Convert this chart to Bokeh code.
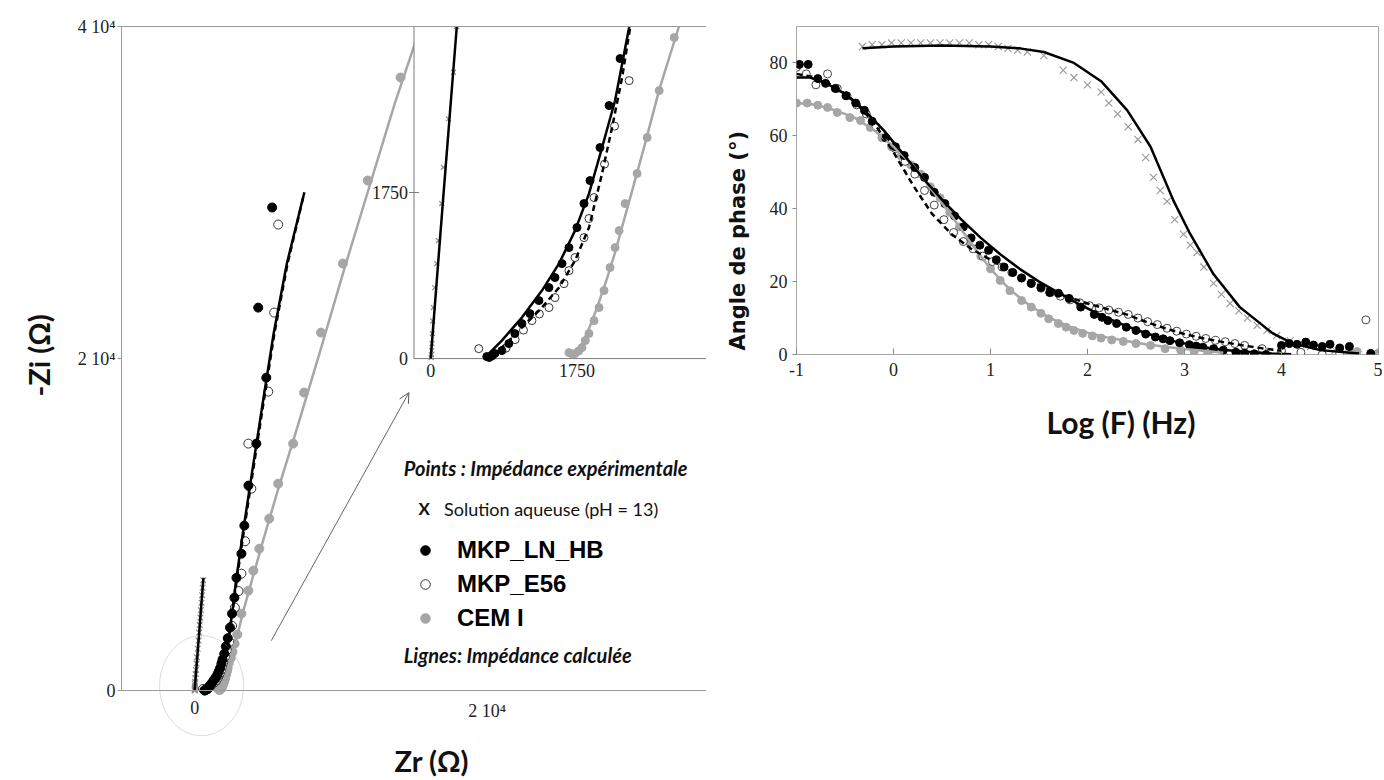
import numpy as np
from bokeh.plotting import figure
from bokeh.models import (Range1d, FixedTicker, Arrow, OpenHead, Legend, Label,
                          LegendItem, PolyAnnotation, LinearAxis, Title)
from bokeh.layouts import row, column
from bokeh.embed import file_html
from bokeh.resources import INLINE
from bokeh.core.properties import value

# ---------------- Nyquist data (Ohm) ----------------
SOL_ZR = [6, 9, 12, 16, 20, 24, 32, 48, 72, 92, 132, 152, 212, 272, 310, 350, 390, 430, 470, 510, 550, 590]
SOL_ZI = [10, 40, 84, 158, 264, 396, 538, 748, 1001, 1244, 1634, 2016, 2526, 3018, 3500, 3950, 4400, 4850, 5300, 5750, 6200, 6650]
SOLFIT_ZR = [0, 150, 312, 600]
SOLFIT_ZI = [0, 1700, 3500, 6800]

LN_ZR = [671, 700, 735, 767, 851, 935, 1007, 1091, 1187, 1295, 1415, 1487, 1571, 1654, 1750, 1834, 1906, 2026, 2134, 2266,
         2420, 2560, 2720, 2860, 3200, 3400, 3680, 4220, 4900, 4350, 5300]
LN_ZI = [21, 12, 30, 53, 84, 158, 264, 369, 474, 611, 748, 854, 1001, 1170, 1381, 1634, 1876, 2224, 2667, 3162,
         3800, 4640, 5600, 6800, 8250, 9940, 12350, 14880, 18850, 23070, 29100]
LNFIT_ZR = [695, 851, 1091, 1331, 1535, 1727, 1894, 2050, 2206, 2374, 2560, 2860, 3300, 3900, 4600, 5400, 6300, 7500]
LNFIT_ZI = [53, 190, 432, 717, 1001, 1349, 1739, 2224, 2720, 3489, 4640, 6800, 9500, 13000, 17000, 21500, 25700, 30000]

E56_ZR = [575, 900, 1010, 1110, 1211, 1300, 1415, 1487, 1595, 1654, 1727, 1834, 1894, 1954, 2080, 2200, 2374, 2560,
          2750, 3000, 3197, 3450, 3878, 3674, 5034, 5442, 5714]
E56_ZI = [105, 110, 200, 300, 400, 470, 538, 643, 790, 927, 1065, 1275, 1476, 1697, 2050, 2450, 2930, 3900,
          5000, 6000, 7048, 9000, 12168, 14880, 18012, 22771, 28072]
E56FIT_ZR = [731, 851, 1091, 1331, 1535, 1727, 1894, 2050, 2170, 2290, 2386, 2580, 2900, 3350, 3950, 4650, 5450, 6350, 7500]
E56FIT_ZI = [32, 116, 327, 538, 748, 1033, 1381, 1950, 2435, 2962, 3489, 4640, 6800, 9500, 13000, 17000, 21500, 25700, 30000]

CEM_ZR = [1654, 1690, 1727, 1770, 1810, 1850, 1894, 1954, 2014, 2074, 2146, 2206, 2254, 2326, 2470, 2590, 2734, 2914,
          3197, 3674, 4014, 4422, 5102, 5714, 6735, 7483, 8640, 10136, 11837, 14082]
CEM_ZI = [63, 50, 53, 80, 116, 190, 264, 400, 538, 717, 959, 1170, 1349, 1634, 1950, 2330, 2825, 3383,
          4638, 6024, 7229, 8554, 10361, 12470, 14880, 17952, 21566, 25723, 30723, 36927]
CEMFIT_ZR = [1750, 1810, 1900, 2000, 2100, 2200, 2300, 2420, 2560, 2740, 2974, 3300, 3900, 4700, 5700, 7000, 8600,
             10200, 12000, 13700, 15300]
CEMFIT_ZI = [53, 150, 330, 560, 820, 1100, 1420, 1800, 2250, 2850, 3510, 4700, 6600, 9100, 12100, 15800, 20500,
             25300, 30500, 35400, 39600]

MAIN_TICKS_X = [0, 20000]
MAIN_TICKS_Y = [0, 20000, 40000]
MAIN_LABELS = {0: "0", 20000: "2 10\u2074", 40000: "4 10\u2074"}
INSET_TICKS = [0, 1750]

# ---------------- Bode (phase) data ----------------
SOL_LOGF = [-0.32, -0.22, -0.12, -0.02, 0.08, 0.18, 0.28, 0.38, 0.48, 0.58, 0.68, 0.78, 0.88, 0.98, 1.08, 1.18, 1.28,
            1.38, 1.55, 1.75, 1.86, 2.0, 2.14, 2.22, 2.31, 2.42, 2.52, 2.6, 2.68, 2.75, 2.82, 2.9, 2.99, 3.06, 3.13,
            3.2, 3.3, 3.38, 3.47, 3.56, 3.65, 3.75, 3.85, 3.95, 4.09, 4.2, 4.3, 4.43, 4.55, 4.7]
SOL_PH = [84.5, 85, 85, 85.5, 85.5, 85.5, 85.5, 85.5, 85.5, 85.5, 85.5, 85.5, 85, 85, 84.5, 84, 83.5, 83, 82, 78,
          76, 74, 72, 69, 66, 62.5, 59, 54, 48.6, 45, 42, 37, 33, 30, 28, 24, 19.5, 16.5, 14, 12,
          10, 8, 6.6, 5.2, 3.8, 2.8, 2.2, 1.6, 1.2, 0.8]
SOLFIT_LOGF = [-0.32, 0.0, 0.5, 1.0, 1.3, 1.55, 1.86, 2.14, 2.41, 2.65, 2.89, 3.06, 3.3, 3.57, 3.91, 4.12, 4.4, 4.8]
SOLFIT_PH = [84, 84.5, 84.8, 84.5, 84, 83, 80, 75, 67, 57, 42, 33, 22, 13, 5.8, 3, 1.2, 0.3]

LN_LOGF = [-0.97, -0.88, -0.78, -0.7, -0.6, -0.49, -0.39, -0.3, -0.22, -0.08, 0.02, 0.11, 0.22, 0.32, 0.42, 0.53,
           0.63, 0.72, 0.8, 0.89, 0.98, 1.06, 1.14, 1.23, 1.32, 1.42, 1.52, 1.61, 1.7, 1.81, 1.93, 2.07, 2.15, 2.21,
           2.3, 2.4, 2.5, 2.6, 2.7, 2.78, 2.85, 2.95, 3.05, 3.12, 3.19, 3.3, 3.4, 3.53, 3.62, 3.72, 3.84, 4.0, 4.08,
           4.16, 4.25, 4.33, 4.42, 4.5, 4.6, 4.7, 4.92]
LN_PH = [79.6, 79.6, 75.7, 74.4, 73, 71, 69, 67, 64, 59.5, 57, 54.6, 51.3, 48.6, 44.5, 41.4, 38, 35, 32, 30,
         28.6, 26, 24, 22.5, 21, 19.5, 18.4, 17, 16.8, 15.4, 13, 11, 10.2, 9.3, 8.5, 7.5, 6.6, 5.6, 4.8, 4.3,
         3.8, 3.2, 2.7, 2.3, 2, 1.6, 1.2, 0.6, 0.4, 0.2, 0, 2.5, 3, 2.8, 3.4, 2.6, 2.2, 2.8, 1.8, 2.2, 0.3]
LNFIT_LOGF = [-1.0, -0.86, -0.7, -0.5, -0.3, -0.1, 0.1, 0.3, 0.5, 0.7, 0.9, 1.1, 1.3, 1.5, 1.7, 1.9, 2.1, 2.3, 2.5,
              2.7, 2.9, 3.1, 3.3, 3.5, 3.7, 3.9, 4.1]
LNFIT_PH = [76, 76, 74.5, 71.5, 67, 61.5, 55, 48.5, 42.5, 37, 32, 27.5, 23.5, 20, 17, 14, 11.3, 8.9, 6.8,
            5, 3.6, 2.5, 1.6, 1, 0.6, 0.3, 0.1]

E56_LOGF = [-1.0, -0.9, -0.8, -0.68, -0.58, -0.48, -0.38, -0.28, -0.18, -0.08, 0.02, 0.12, 0.22, 0.32, 0.42, 0.52,
            0.62, 0.72, 0.82, 0.92, 1.02, 1.12, 1.22, 1.32, 1.42, 1.52, 1.62, 1.72, 1.82, 1.92, 2.02, 2.12, 2.22,
            2.32, 2.42, 2.52, 2.62, 2.72, 2.82, 2.92, 3.02, 3.12, 3.22, 3.32, 3.42, 3.52, 3.62, 3.8, 4.0, 4.2, 4.42,
            4.6, 4.87]
E56_PH = [78.8, 77, 74, 77, 73, 71, 68.5, 66, 62.5, 59.5, 56.5, 53, 49.5, 45, 41, 37, 33.5, 31, 29, 27,
          25.5, 24, 22.5, 21, 19.5, 18.2, 17, 16, 15, 14.2, 13.4, 12.8, 12.2, 11.6, 11, 10, 9, 8.2, 7.2, 6.4,
          5.6, 5, 4.4, 3.9, 3.5, 3, 2.5, 1.6, 1, 0.6, 0, 0.3, 9.5]
E56FIT_LOGF = [-1.0, -0.8, -0.6, -0.4, -0.2, 0.0, 0.2, 0.4, 0.6, 0.8, 1.0, 1.2, 1.4, 1.6, 1.8, 2.0, 2.2, 2.4, 2.6,
               2.8, 3.0, 3.2, 3.4, 3.6, 3.8, 4.0]
E56FIT_PH = [77, 76, 73.5, 69.5, 63.5, 55.5, 46.5, 38.5, 33, 29, 26, 23, 20.2, 17.8, 15.8, 14, 12.5, 11, 9,
             7.2, 5.6, 4.4, 3.4, 2.5, 1.7, 1.0]

CEM_LOGF = [-1.0, -0.89, -0.78, -0.68, -0.58, -0.45, -0.34, -0.24, -0.12, -0.02, 0.08, 0.18, 0.28, 0.38, 0.48, 0.58,
            0.68, 0.78, 0.9, 1.0, 1.1, 1.2, 1.32, 1.42, 1.52, 1.6, 1.7, 1.78, 1.86, 1.95, 2.05, 2.14, 2.25, 2.37,
            2.5, 2.65, 2.8, 2.96, 3.1, 3.24, 3.4, 4.7, 4.78, 5.0]
CEM_PH = [69, 69, 68.4, 67.8, 66.4, 65, 64.2, 62.3, 59.5, 57, 54.5, 52, 49.5, 46, 43, 39, 35, 31, 27, 23.5,
          20.3, 17.5, 14.8, 13, 11.3, 9.8, 8.5, 7.5, 6.6, 5.8, 5.1, 4.5, 4, 3.6, 3, 2.5, 1.6, 1.2, 0.8, 0.4,
          0, 1, 0.8, 0.4]
CEMFIT_LOGF = [-1.0, -0.8, -0.6, -0.4, -0.2, 0.0, 0.2, 0.4, 0.6, 0.8, 1.0, 1.2, 1.4, 1.6, 1.8, 2.0, 2.2, 2.4, 2.6,
               2.8, 3.0, 3.2, 3.4]
CEMFIT_PH = [69, 68.5, 67, 65, 61.5, 57, 52, 45, 38, 30.5, 23.5, 17.8, 13.5, 10.2, 7.8, 6, 4.7, 3.7, 2.8,
             2.1, 1.5, 1, 0.5]

BODE_TICKS_X = [-1, 0, 1, 2, 3, 4, 5]
BODE_TICKS_Y = [0, 20, 40, 60, 80]

# ---------------- styles ----------------
SERIF = "Liberation Serif"
BLACK = "#000000"
GRAY = "#a6a6a6"
XGRAY = "#8a8a8a"
FRAME = "#9a9a9a"


def clip_line(xs, ys, box):
    """Clip a polyline to box (x0, x1, y0, y1); returns list of pieces."""
    x0, x1, y0, y1 = box
    pieces, cx, cy = [], [], []
    for i in range(len(xs) - 1):
        ax, ay, bx, by = xs[i], ys[i], xs[i + 1], ys[i + 1]
        dx, dy = bx - ax, by - ay
        t0, t1, ok = 0.0, 1.0, True
        for pp, qq in ((-dx, ax - x0), (dx, x1 - ax), (-dy, ay - y0), (dy, y1 - ay)):
            if pp == 0:
                if qq < 0:
                    ok = False
                    break
            else:
                t = qq / pp
                if pp < 0:
                    if t > t1:
                        ok = False
                        break
                    t0 = max(t0, t)
                else:
                    if t < t0:
                        ok = False
                        break
                    t1 = min(t1, t)
        if not ok:
            if cx:
                pieces.append((cx, cy))
                cx, cy = [], []
            continue
        if not cx:
            cx, cy = [ax + t0 * dx], [ay + t0 * dy]
        cx.append(ax + t1 * dx)
        cy.append(ay + t1 * dy)
        if t1 < 1.0:
            pieces.append((cx, cy))
            cx, cy = [], []
    if cx:
        pieces.append((cx, cy))
    return pieces


def inside(xs, ys, box):
    x0, x1, y0, y1 = box
    xs, ys = np.asarray(xs, float), np.asarray(ys, float)
    m = (xs >= x0) & (xs <= x1) & (ys >= y0) & (ys <= y1)
    return xs[m], ys[m]


def blank_axis(ax):
    ax.ticker = FixedTicker(ticks=[])
    ax.axis_line_color = FRAME
    ax.major_tick_line_color = None
    ax.minor_tick_line_color = None
    ax.major_label_text_font_size = "0px"


# =============== Left: Nyquist ===============
p1 = figure(width=706, height=780, x_range=Range1d(-5000, 35000), y_range=Range1d(-3000, 40000),
            output_backend="svg", toolbar_location=None,
            min_border_left=120, min_border_right=0, min_border_top=26, min_border_bottom=40)
p1.grid.visible = False
p1.outline_line_color = None

# left axis (real ticks) bounded to 0..4e4
yax = p1.yaxis[0]
yax.ticker = FixedTicker(ticks=MAIN_TICKS_Y)
yax.major_label_overrides = MAIN_LABELS
yax.bounds = (0, 40000)
yax.axis_line_color = FRAME
yax.minor_tick_line_color = None
yax.major_tick_line_color = FRAME
yax.major_tick_in = 0
yax.major_tick_out = 4
yax.major_label_standoff = 2
yax.major_label_text_font = SERIF
yax.major_label_text_font_size = "18px"
yax.major_label_text_color = "#222222"

# bottom axis line drawn at Zi = 0 (the frame continues below it for the origin circle)
xax = p1.xaxis[0]
blank_axis(xax)
xax.fixed_location = 0
top_ax = LinearAxis()
blank_axis(top_ax)
p1.add_layout(top_ax, "above")
right_ax = LinearAxis(bounds=(0, 40000))
blank_axis(right_ax)
p1.add_layout(right_ax, "right")

# x tick labels (Zr) just under the Zi = 0 line
p1.text(x=MAIN_TICKS_X, y=[0] * len(MAIN_TICKS_X), text=[MAIN_LABELS[t] for t in MAIN_TICKS_X],
        text_font=value(SERIF), text_font_size="18px", text_color="#222222",
        text_align="center", text_baseline="top", y_offset=10)

# main glyphs
r_sol = p1.scatter(SOL_ZR, SOL_ZI, marker="x", size=8, line_color=XGRAY, line_width=1.2)
r_cem = p1.scatter(CEM_ZR, CEM_ZI, marker="circle", size=9, fill_color=GRAY, line_color=GRAY)
r_e56 = p1.scatter(E56_ZR, E56_ZI, marker="circle", size=9, fill_color="white", line_color="#333333", line_width=1)
r_ln = p1.scatter(LN_ZR, LN_ZI, marker="circle", size=9, fill_color=BLACK, line_color=BLACK)
p1.line(CEMFIT_ZR, CEMFIT_ZI, line_color=GRAY, line_width=2.5)
p1.line(E56FIT_ZR, E56FIT_ZI, line_color=BLACK, line_width=2.5, line_dash="6 4")
p1.line(LNFIT_ZR, LNFIT_ZI, line_color=BLACK, line_width=2.5)
p1.line(SOLFIT_ZR, SOLFIT_ZI, line_color=BLACK, line_width=2.5)

# inset (zoom on low impedances), drawn as a sub-coordinate system of the main plot
in_x = Range1d(-200, 3300)
in_y = Range1d(0, 3500)
box = (in_x.start, in_x.end, in_y.start, in_y.end)
sub = p1.subplot(x_source=in_x, y_source=in_y,
                 x_target=Range1d(15000, 35000), y_target=Range1d(20000, 40000))
sub.quad(left=[in_x.start], right=[in_x.end], bottom=[in_y.start], top=[in_y.end],
         fill_color="white", line_color="#7a7a7a", line_width=1)


def sub_points(xs, ys, **kw):
    px, py = inside(xs, ys, box)
    sub.scatter(px, py, **kw)


def sub_line(xs, ys, **kw):
    pieces = clip_line(xs, ys, box)
    sub.multi_line([pc[0] for pc in pieces], [pc[1] for pc in pieces], **kw)


sub_points(SOL_ZR, SOL_ZI, marker="x", size=7, line_color=XGRAY, line_width=1.2)
sub_points(CEM_ZR, CEM_ZI, marker="circle", size=8, fill_color=GRAY, line_color=GRAY)
sub_points(E56_ZR, E56_ZI, marker="circle", size=8, fill_color="white", line_color="#333333")
sub_points(LN_ZR, LN_ZI, marker="circle", size=8, fill_color=BLACK, line_color=BLACK)
sub_line(CEMFIT_ZR, CEMFIT_ZI, line_color=GRAY, line_width=2.5)
sub_line(E56FIT_ZR, E56FIT_ZI, line_color=BLACK, line_width=2.5, line_dash="6 4")
sub_line(LNFIT_ZR, LNFIT_ZI, line_color=BLACK, line_width=2.5)
sub_line(SOLFIT_ZR, SOLFIT_ZI, line_color=BLACK, line_width=2.5)

# inset ticks / labels
sub.text(x=INSET_TICKS, y=[in_y.start] * len(INSET_TICKS), text=[str(t) for t in INSET_TICKS],
         text_font=value(SERIF), text_font_size="18px", text_color="#222222",
         text_align="center", text_baseline="top", y_offset=5)
sub.text(x=[in_x.start] * len(INSET_TICKS), y=INSET_TICKS, text=[str(t) for t in INSET_TICKS],
         text_font=value(SERIF), text_font_size="18px", text_color="#222222",
         text_align="right", text_baseline="middle", x_offset=-6)
sub.segment(x0=[in_x.start - 60] * len(INSET_TICKS[1:]), x1=[in_x.start + 60] * len(INSET_TICKS[1:]),
            y0=INSET_TICKS[1:], y1=INSET_TICKS[1:], line_color="#7a7a7a", line_width=1)

# circle around origin and arrow to the inset
ang = np.linspace(0, 2 * np.pi, 90)
p1.add_layout(PolyAnnotation(xs=list(476 + 2870 * np.cos(ang)), ys=list(301 + 3010 * np.sin(ang)),
                             fill_alpha=0, line_color="#8a8a8a", line_width=1))
p1.add_layout(Arrow(end=OpenHead(size=10, line_color="#555555", line_width=1),
                    x_start=5240, y_start=3010, x_end=14650, y_end=17950,
                    line_color="#666666", line_width=1))

# legend block
p1.add_layout(Label(x=14300, y=13430, text="Points : Impédance expérimentale", text_font="Lato",
                    text_font_style="bold italic", text_font_size="20px", text_color="#111111",
                    text_baseline="middle"))
p1.add_layout(Label(x=15700, y=10960, text="X", text_font="Lato", text_font_style="bold",
                    text_font_size="17px", text_color="#111111", text_align="center", text_baseline="middle"))
p1.add_layout(Label(x=17050, y=10960, text="Solution aqueuse (pH = 13)", text_font="Lato",
                    text_font_size="18px", text_color="#111111", text_baseline="middle"))
p1.add_layout(Label(x=14300, y=2170, text="Lignes: Impédance calculée", text_font="Lato",
                    text_font_style="bold italic", text_font_size="20px", text_color="#111111",
                    text_baseline="middle"))
legend = Legend(items=[LegendItem(label="MKP_LN_HB", renderers=[r_ln]),
                       LegendItem(label="MKP_E56", renderers=[r_e56]),
                       LegendItem(label="CEM I", renderers=[r_cem])],
                location=(292, 105), orientation="vertical", margin=0, padding=0, spacing=0,
                glyph_width=24, glyph_height=34, label_height=34, label_standoff=20,
                border_line_color=None, background_fill_alpha=0,
                label_text_font="Liberation Sans", label_text_font_style="bold",
                label_text_font_size="24px", label_text_color="#000000")
p1.add_layout(legend)

# axis titles
p1.add_layout(Title(text="-Zi (\u03a9)", align="left", offset=344, standoff=37, text_font="Lato",
                    text_font_style="bold", text_font_size="29px", text_color="#111111"), "left")
p1.add_layout(Title(text="Zr (\u03a9)", align="left", offset=273, standoff=0, text_font="Lato",
                    text_font_style="bold", text_font_size="29px", text_color="#111111"), "below")

# =============== Right: Bode phase ===============
p2 = figure(width=676, height=468, x_range=Range1d(-1, 5), y_range=Range1d(0, 90),
            output_backend="svg", toolbar_location=None,
            min_border_left=88, min_border_right=4, min_border_top=26, min_border_bottom=114)
p2.grid.visible = False
p2.outline_line_color = "#a8a8a8"
p2.xaxis.ticker = FixedTicker(ticks=BODE_TICKS_X)
p2.yaxis.ticker = FixedTicker(ticks=BODE_TICKS_Y)
p2.xaxis.major_label_overrides = {t: str(t) for t in BODE_TICKS_X}
for ax in (p2.xaxis[0], p2.yaxis[0]):
    ax.axis_line_color = None
    ax.minor_tick_line_color = None
    ax.major_label_text_font = SERIF
    ax.major_label_text_font_size = "18px"
    ax.major_label_text_color = "#222222"
    ax.major_tick_line_color = "#8a8a8a"
p2.xaxis.major_tick_in = 6
p2.xaxis.major_tick_out = 0
p2.xaxis.major_label_standoff = 8
p2.yaxis.major_tick_in = 0
p2.yaxis.major_tick_out = 4
p2.yaxis.major_label_standoff = 5

p2.scatter(SOL_LOGF, SOL_PH, marker="x", size=10, line_color="#999999", line_width=1.1)
p2.scatter(CEM_LOGF, CEM_PH, marker="circle", size=8, fill_color=GRAY, line_color=GRAY)
p2.scatter(E56_LOGF, E56_PH, marker="circle", size=8, fill_color="white", line_color="#444444")
p2.scatter(LN_LOGF, LN_PH, marker="circle", size=8, fill_color=BLACK, line_color=BLACK)
p2.line(CEMFIT_LOGF, CEMFIT_PH, line_color=GRAY, line_width=2.5)
p2.line(E56FIT_LOGF, E56FIT_PH, line_color=BLACK, line_width=2.5, line_dash="6 4")
p2.line(LNFIT_LOGF, LNFIT_PH, line_color=BLACK, line_width=2.5)
p2.line(SOLFIT_LOGF, SOLFIT_PH, line_color=BLACK, line_width=2.5)

p2.add_layout(Title(text="Angle de phase (\u00b0)", align="left", offset=4, standoff=34, text_font="DejaVu Sans",
                    text_font_style="bold", text_font_size="21px", text_color="#111111"), "left")
p2.add_layout(Title(text="Log (F) (Hz)", align="left", offset=250, standoff=46, text_font="Lato",
                    text_font_style="bold", text_font_size="30px", text_color="#111111"), "below")

layout = row(p1, column(p2))
with open("out.html", "w") as f:
    f.write(file_html(layout, INLINE))
